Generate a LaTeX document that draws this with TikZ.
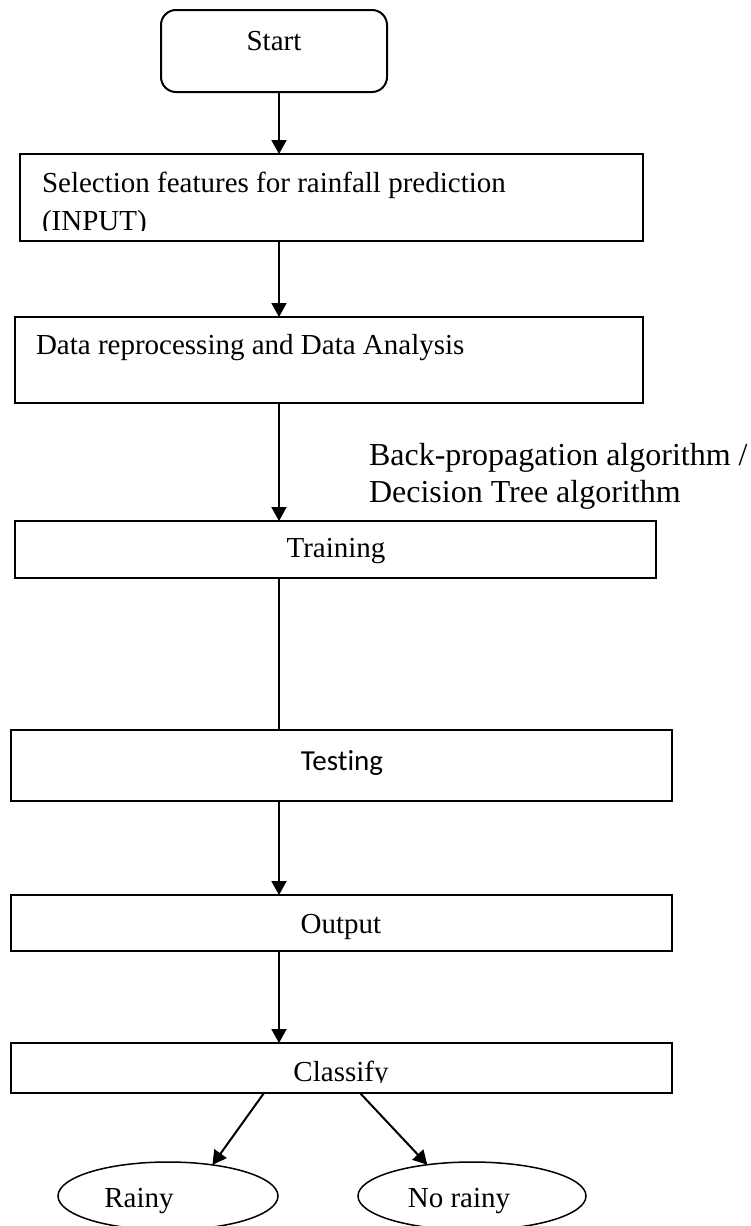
\documentclass[tikz,border=0pt]{standalone}
\usepackage{fontspec}
\setmainfont{Liberation Serif}
\newfontfamily\calib[Ligatures=NoCommon]{Carlito}
\usetikzlibrary{arrows.meta,shapes.geometric}
\begin{document}
\begin{tikzpicture}[x=1pt,y=-1pt,
  box/.style={draw, line width=2pt, rectangle, inner sep=0pt, outer sep=0pt},
  startbox/.style={box, rounded corners=15pt},
  oval/.style={draw, line width=1.5pt, ellipse, inner sep=0pt, outer sep=0pt},
  txt/.style={inner sep=0pt, outer sep=0pt, font=\fontsize{29}{38}\selectfont},
  bigtxt/.style={inner sep=0pt, outer sep=0pt, font=\fontsize{32}{37}\selectfont},
  flow/.style={line width=2pt, -{Triangle[length=14pt,width=15pt]}},
  link/.style={line width=2pt}]
\useasboundingbox (0,0) rectangle (750,1226);
\fill[white] (0,0) rectangle (750,1226);

% process boxes
\node[startbox, minimum width=226pt, minimum height=82pt] (start) at (274,51) {};
\node[box, minimum width=623pt, minimum height=87pt] (sel)   at (331.5,197.5) {};
\node[box, minimum width=628pt, minimum height=86pt] (data)  at (329,360) {};
\node[box, minimum width=641pt, minimum height=57pt] (train) at (335.5,549.5) {};
\node[box, minimum width=661pt, minimum height=71pt] (test)  at (341.5,765.5) {};
\node[box, minimum width=661pt, minimum height=56pt] (out)   at (341.5,923) {};
\node[box, minimum width=661pt, minimum height=50pt] (cls)   at (341.5,1068) {};
\node[oval, minimum width=220pt, minimum height=68pt] (rainy)   at (168,1196) {};
\node[oval, minimum width=228pt, minimum height=68pt] (norainy) at (472,1196) {};

% box labels
\node[txt, anchor=base] (startlbl) at (274,50) {Start};
\node[txt, anchor=base west] (sellbl) at (42,192) {Selection features for rainfall prediction};
\begin{scope}
  \clip (20,200) rectangle (643,230);
  \node[txt, anchor=base west] (inlbl) at (42,230) {(INPUT)};
\end{scope}
\node[txt, anchor=base west] (datalbl) at (36,354) {Data reprocessing and Data Analysis};
\node[bigtxt, anchor=base west] (algo1) at (369,465) {Back-propagation algorithm /};
\node[bigtxt, anchor=base west] (algo2) at (369,502) {Decision Tree algorithm};
\node[txt, anchor=base] (trainlbl) at (336,557) {Training};
\node[txt, anchor=base, font=\calib\fontsize{29}{38}\selectfont] (testlbl) at (342,770) {Testing};
\node[txt, anchor=base] (outlbl) at (341,933) {Output};
\begin{scope}
  \clip (11,1043) rectangle (672,1082);
  \node[txt, anchor=base] (clslbl) at (341,1081) {Classify};
\end{scope}
\node[txt, anchor=base] (rainylbl) at (139,1207) {Rainy};
\node[txt, anchor=base] (norainylbl) at (459,1207) {No rainy};

% connectors
\coordinate (spine) at (279,0);
\draw[flow] (start.south -| spine) -- (sel.north -| spine);
\draw[flow] (sel.south -| spine) -- (data.north -| spine);
\draw[flow] (data.south -| spine) -- (train.north -| spine);
\draw[link] (train.south -| spine) -- (test.north -| spine);
\draw[flow] (test.south -| spine) -- (out.north -| spine);
\draw[flow] (out.south -| spine) -- (cls.north -| spine);
\draw[flow] ([xshift=-77.5pt]cls.south) -- (rainy.35);
\draw[flow] ([xshift=18.5pt]cls.south) -- (norainy.145);
\end{tikzpicture}
\end{document}
